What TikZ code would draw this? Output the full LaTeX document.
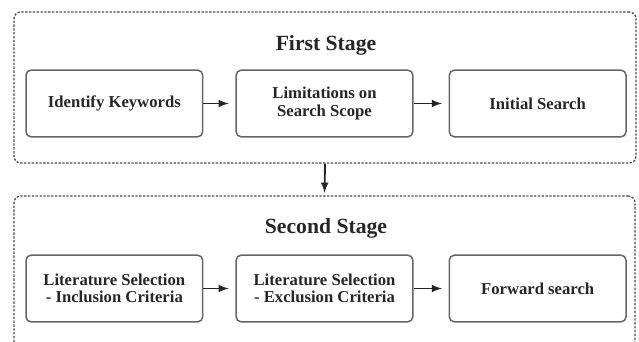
\documentclass[tikz,border=0pt]{standalone}
\usepackage{fontspec}
\setmainfont{Liberation Serif}
\usetikzlibrary{positioning, arrows}

\tikzset{
  stepbox/.style={draw=black!60, line width=0.9pt, rounded corners=3pt,
    minimum width=106pt, minimum height=40pt, align=center,
    font=\bfseries\fontsize{10}{10.5}\selectfont, text=black!85},
  stagebox/.style={draw=black!70, line width=0.8pt, rounded corners=4pt,
    dash pattern=on 1.4pt off 0.9pt},
  stagetitle/.style={font=\bfseries\fontsize{13}{15}\selectfont, text=black!85},
  link/.style={-latex, line width=1.1pt, black!85, shorten >=4pt}
}

\begin{document}
\begin{tikzpicture}[x=1pt, y=1pt, node distance=20pt]
\useasboundingbox (0,0) rectangle (383.4,-205.2);
% containers
\node[stagebox, minimum width=373.2pt, minimum height=90.6pt] (stage1) at (195,-52.5) {};
\node[stagebox, minimum width=372.6pt, minimum height=98.4pt] (stage2) at (194.7,-166.8) {};
% first stage
\node[stagetitle] (title1) at (195.6,-27) {First Stage};
\node[stepbox] (scope) at (194.7,-62.1) {Limitations on\\Search Scope};
\node[stepbox, left=19.2pt of scope] (keywords) {Identify Keywords};
\node[stepbox, right=21pt of scope] (initial) {Initial Search};
% second stage
\node[stagetitle] (title2) at (195.6,-136.8) {Second Stage};
\node[stepbox] (exclusion) at (194.7,-173.1) {Literature Selection\\- Exclusion Criteria};
\node[stepbox, left=19.2pt of exclusion] (inclusion) {Literature Selection\\- Inclusion Criteria};
\node[stepbox, right=21pt of exclusion] (forward) {Forward search};
% arrows
\draw[link] (keywords) -- (scope);
\draw[link] (scope) -- (initial);
\draw[link] (inclusion) -- (exclusion);
\draw[link] (exclusion) -- (forward);
\draw[link, shorten >=1.5pt] (stage1.south) -- (stage2.north);
\end{tikzpicture}
\end{document}
